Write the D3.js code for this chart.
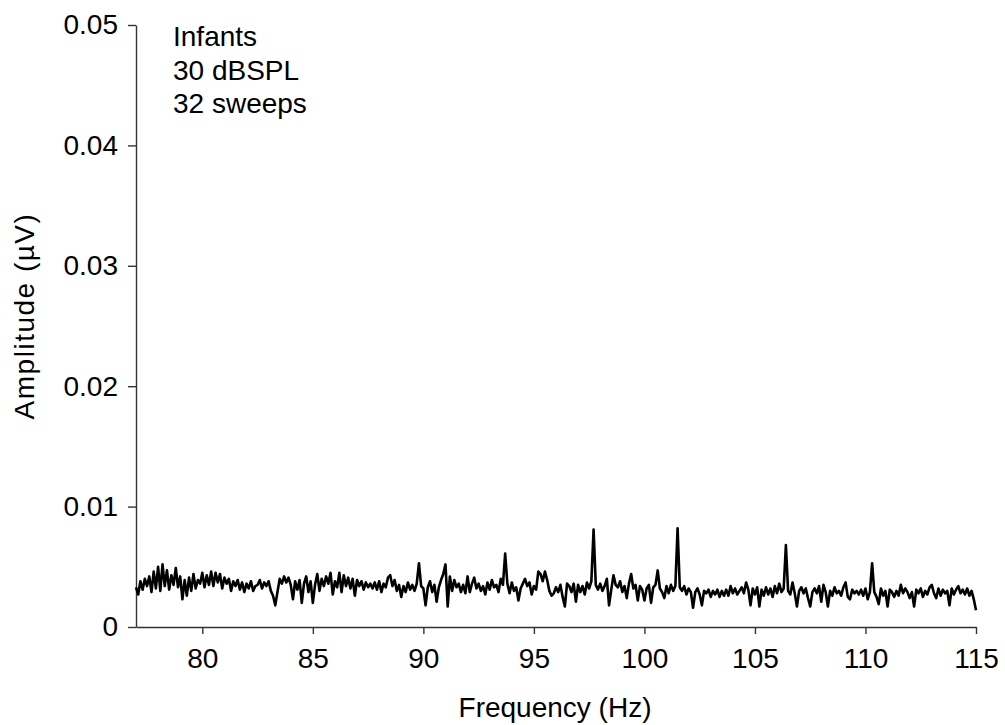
<!DOCTYPE html>
<html>
<head>
<meta charset="utf-8">
<script src="https://cdn.jsdelivr.net/npm/d3@7"></script>
<style>
  html, body { margin: 0; padding: 0; background: #fff; }
  svg { display: block; font-family: Arial, "Liberation Sans", Helvetica, sans-serif; }
</style>
</head>
<body>
<svg id="chart" width="1005" height="725"></svg>
<script>
// ---- data ----
const freqStart = 77.0;      // Hz, first spectral bin
const freqStep = 0.1;        // Hz, bin spacing
// amplitude in µV, one value per 0.1 Hz bin from 77.0 to 115.0 Hz
const amplitude = [
  0.0033,0.0027,0.0038,0.0031,0.0040,0.0034,0.0042,0.0029,0.0046,0.0032, // 77
  0.0050,0.0030,0.0052,0.0034,0.0047,0.0031,0.0043,0.0035,0.0049,0.0033, // 78
  0.0042,0.0023,0.0039,0.0026,0.0041,0.0030,0.0044,0.0032,0.0039,0.0036, // 79
  0.0045,0.0033,0.0043,0.0035,0.0046,0.0034,0.0045,0.0037,0.0044,0.0032, // 80
  0.0041,0.0036,0.0040,0.0030,0.0038,0.0034,0.0039,0.0031,0.0037,0.0029, // 81
  0.0036,0.0032,0.0038,0.0030,0.0034,0.0035,0.0039,0.0032,0.0037,0.0034, // 82
  0.0038,0.0030,0.0026,0.0018,0.0029,0.0040,0.0036,0.0042,0.0037,0.0041, // 83
  0.0035,0.0023,0.0038,0.0031,0.0039,0.0020,0.0036,0.0042,0.0029,0.0038, // 84
  0.0020,0.0035,0.0044,0.0030,0.0040,0.0034,0.0042,0.0036,0.0045,0.0027, // 85
  0.0038,0.0033,0.0045,0.0029,0.0043,0.0034,0.0041,0.0032,0.0040,0.0026, // 86
  0.0039,0.0034,0.0038,0.0031,0.0037,0.0033,0.0036,0.0032,0.0037,0.0031, // 87
  0.0038,0.0029,0.0036,0.0033,0.0041,0.0043,0.0034,0.0039,0.0030,0.0035, // 88
  0.0025,0.0034,0.0029,0.0037,0.0031,0.0035,0.0030,0.0036,0.0053,0.0034, // 89
  0.0032,0.0018,0.0033,0.0038,0.0029,0.0035,0.0021,0.0033,0.0039,0.0044, // 90
  0.0052,0.0017,0.0042,0.0030,0.0039,0.0033,0.0036,0.0029,0.0035,0.0028, // 91
  0.0042,0.0029,0.0036,0.0041,0.0032,0.0036,0.0030,0.0034,0.0027,0.0037, // 92
  0.0031,0.0039,0.0033,0.0035,0.0029,0.0040,0.0035,0.0061,0.0036,0.0028, // 93
  0.0037,0.0030,0.0033,0.0022,0.0032,0.0036,0.0040,0.0034,0.0037,0.0027, // 94
  0.0034,0.0031,0.0046,0.0044,0.0038,0.0046,0.0039,0.0030,0.0026,0.0028, // 95
  0.0033,0.0029,0.0035,0.0025,0.0017,0.0036,0.0034,0.0029,0.0036,0.0021, // 96
  0.0035,0.0029,0.0034,0.0027,0.0037,0.0032,0.0038,0.0081,0.0035,0.0031, // 97
  0.0036,0.0030,0.0034,0.0040,0.0018,0.0031,0.0043,0.0035,0.0033,0.0038, // 98
  0.0029,0.0034,0.0024,0.0036,0.0044,0.0032,0.0035,0.0022,0.0034,0.0031, // 99
  0.0022,0.0032,0.0035,0.0020,0.0033,0.0035,0.0047,0.0032,0.0029,0.0024, // 100
  0.0034,0.0028,0.0035,0.0030,0.0034,0.0082,0.0033,0.0030,0.0034,0.0027, // 101
  0.0032,0.0029,0.0016,0.0029,0.0032,0.0027,0.0018,0.0030,0.0028,0.0031, // 102
  0.0025,0.0030,0.0027,0.0031,0.0025,0.0030,0.0026,0.0031,0.0026,0.0034, // 103
  0.0028,0.0032,0.0027,0.0030,0.0033,0.0028,0.0037,0.0031,0.0018,0.0032, // 104
  0.0027,0.0033,0.0017,0.0031,0.0026,0.0033,0.0027,0.0032,0.0025,0.0034, // 105
  0.0028,0.0036,0.0029,0.0032,0.0068,0.0030,0.0027,0.0037,0.0028,0.0017, // 106
  0.0030,0.0033,0.0028,0.0032,0.0024,0.0017,0.0029,0.0032,0.0028,0.0034, // 107
  0.0021,0.0035,0.0029,0.0017,0.0030,0.0026,0.0033,0.0028,0.0030,0.0026, // 108
  0.0033,0.0037,0.0025,0.0023,0.0031,0.0028,0.0030,0.0027,0.0031,0.0026, // 109
  0.0032,0.0023,0.0029,0.0053,0.0029,0.0025,0.0019,0.0032,0.0026,0.0030, // 110
  0.0017,0.0031,0.0029,0.0025,0.0030,0.0026,0.0035,0.0028,0.0032,0.0029, // 111
  0.0024,0.0029,0.0017,0.0031,0.0028,0.0032,0.0025,0.0030,0.0027,0.0033, // 112
  0.0035,0.0028,0.0024,0.0032,0.0026,0.0031,0.0028,0.0030,0.0018,0.0032, // 113
  0.0027,0.0031,0.0034,0.0028,0.0031,0.0027,0.0032,0.0026,0.0030,0.0023, // 114
  0.0014                                                                 // 115
];
const xTicks = [80, 85, 90, 95, 100, 105, 110, 115];
const yTicks = [0, 0.01, 0.02, 0.03, 0.04, 0.05];
const yTickLabels = ["0", "0.01", "0.02", "0.03", "0.04", "0.05"];
const xDomain = [77, 115];
const yDomain = [0, 0.05];
const annotation = ["Infants", "30 dBSPL", "32 sweeps"];
const xTitle = "Frequency (Hz)";
const yTitle = "Amplitude (µV)";

// ---- drawing ----
const svg = d3.select("#chart");
svg.append("rect").attr("width", 1005).attr("height", 725).attr("fill", "#fff");

const x = d3.scaleLinear().domain(xDomain).range([136, 976]);
const y = d3.scaleLinear().domain(yDomain).range([627, 25]);

const points = amplitude.map((v, i) => ({ f: freqStart + i * freqStep, a: v }));

const fontSize = 28;

// y axis
const yAxis = svg.append("g")
  .attr("transform", `translate(${x(xDomain[0])},0)`)
  .call(d3.axisLeft(y).tickValues(yTicks)
    .tickFormat((d, i) => yTickLabels[i])
    .tickSize(8).tickSizeOuter(0).tickPadding(10));
// x axis
const xAxis = svg.append("g")
  .attr("transform", `translate(0,${y(0)})`)
  .call(d3.axisBottom(x).tickValues(xTicks)
    .tickFormat(d3.format("d"))
    .tickSize(7).tickSizeOuter(0).tickPadding(14));

[yAxis, xAxis].forEach(g => {
  g.select(".domain").attr("stroke", "#333").attr("stroke-width", 1.4);
  g.selectAll(".tick line").attr("stroke", "#333").attr("stroke-width", 1.4);
  g.selectAll(".tick text")
    .attr("fill", "#000")
    .style("font-size", fontSize + "px")
    .style("font-family", "Arial, 'Liberation Sans', sans-serif");
});

// spectrum line
const line = d3.line().x(d => x(d.f)).y(d => y(d.a));
svg.append("path")
  .datum(points)
  .attr("fill", "none")
  .attr("stroke", "#000")
  .attr("stroke-width", 2.6)
  .attr("stroke-linejoin", "round")
  .attr("d", line);

// annotation text
const ann = svg.append("text")
  .attr("x", 173).attr("y", 46)
  .style("font-size", fontSize + "px")
  .attr("fill", "#000");
annotation.forEach((t, i) => {
  ann.append("tspan").attr("x", 173).attr("y", 46 + i * 33.5).text(t);
});

// axis titles
svg.append("text")
  .attr("x", 555)
  .attr("y", 717)
  .attr("text-anchor", "middle")
  .style("font-size", fontSize + "px")
  .attr("fill", "#000")
  .text(xTitle);

svg.append("text")
  .attr("transform", `translate(34,316) rotate(-90)`)
  .attr("text-anchor", "middle")
  .style("font-size", fontSize + "px")
  .style("letter-spacing", "1.5px")
  .attr("fill", "#000")
  .text(yTitle);
</script>
</body>
</html>
